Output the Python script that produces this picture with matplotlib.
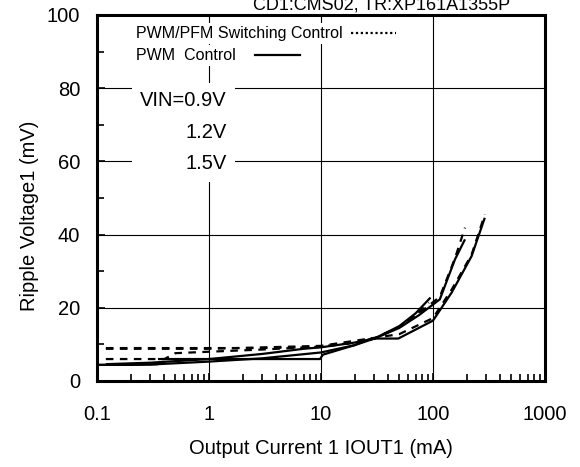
import matplotlib
matplotlib.use("Agg")
import matplotlib.pyplot as plt
from matplotlib.lines import Line2D
from matplotlib.ticker import LogLocator, MultipleLocator, FixedLocator, FixedFormatter

plt.rcParams['font.family'] = ['Liberation Sans', 'DejaVu Sans']

# Output current (mA) / ripple voltage (mV)
# PWM control (solid)
pwm_09_x = [0.12, 0.3, 1, 3, 7, 10, 20, 30, 50, 70, 95]
pwm_09_y = [4.6, 5.0, 6.0, 7.4, 8.8, 9.2, 10.5, 11.6, 15.0, 18.5, 22.8]
pwm_12_x = [0.1, 0.3, 1, 3, 10, 20, 30, 50, 75, 115, 157, 193]
pwm_12_y = [4.4, 4.5, 5.3, 6.2, 7.8, 9.8, 11.6, 14.5, 18.0, 22.3, 33.2, 38.7]
pwm_15_x = [0.35, 1, 3, 9.8, 10.4, 20, 28, 49, 100, 147, 221, 290]
pwm_15_y = [6.0, 6.0, 6.0, 6.0, 7.2, 9.8, 11.6, 11.6, 16.5, 24.2, 34.1, 44.6]
pwm_base_x = [0.1, 0.2, 0.35]
pwm_base_y = [4.4, 4.4, 4.6]

# PWM/PFM switching control (dashed)
pfm_09_x = [0.12, 0.4, 0.5, 1, 3, 10, 20, 30, 50, 70, 92]
pfm_09_y = [6.0, 6.0, 7.6, 8.0, 8.6, 9.4, 10.5, 11.6, 14.8, 18.0, 21.4]
pfm_12_x = [0.12, 1, 3, 10, 20, 30, 50, 75, 115, 157, 193]
pfm_12_y = [9.0, 9.0, 9.0, 9.3, 10.5, 11.6, 14.8, 18.5, 23.0, 33.5, 41.9]
pfm_15_x = [0.12, 1, 10, 30, 50, 100, 147, 221, 290]
pfm_15_y = [8.8, 8.8, 9.6, 11.8, 12.8, 17.2, 25.0, 34.5, 45.5]

x_ticks = [0.1, 1, 10, 100, 1000]
x_tick_labels = ['0.1', '1', '10', '100', '1000']
y_ticks = [0, 20, 40, 60, 80, 100]

fig = plt.figure(figsize=(5.8, 4.67), dpi=100)
ax = fig.add_axes([97 / 580, 1 - 381 / 467, 448 / 580, 366 / 467])

lw = 1.6
dash = (0, (3.4, 2.9))
for x, y in [(pwm_09_x, pwm_09_y), (pwm_12_x, pwm_12_y),
             (pwm_15_x, pwm_15_y), (pwm_base_x, pwm_base_y)]:
    ax.plot(x, y, color='black', lw=lw, solid_capstyle='butt')
for x, y in [(pfm_09_x, pfm_09_y), (pfm_12_x, pfm_12_y), (pfm_15_x, pfm_15_y)]:
    ax.plot(x, y, color='black', lw=lw, linestyle=dash)

ax.set_xscale('log')
ax.set_xlim(0.1, 1000)
ax.set_ylim(0, 100)
ax.xaxis.set_major_locator(FixedLocator(x_ticks))
ax.xaxis.set_major_formatter(FixedFormatter(x_tick_labels))
ax.xaxis.set_minor_locator(LogLocator(base=10, subs=range(2, 10), numticks=20))
ax.xaxis.set_minor_formatter(FixedFormatter([]))
ax.set_yticks(y_ticks)
ax.yaxis.set_minor_locator(MultipleLocator(10))

ax.grid(True, which='major', color='black', lw=0.8)
ax.tick_params(which='both', direction='in', top=False, right=False,
               labelsize=14.5, color='black')
ax.tick_params(axis='x', which='major', length=6, width=1.2, pad=17)
ax.tick_params(axis='x', which='minor', length=5, width=1.2)
ax.tick_params(axis='y', which='major', length=6, width=1.2, pad=12)
ax.tick_params(axis='y', which='minor', length=5, width=1.2)
for s in ax.spines.values():
    s.set_linewidth(2.2)

ax.set_xlabel('Output Current 1 IOUT1 (mA)', fontsize=14.5)
ax.xaxis.set_label_coords(0.5, -0.158)
ax.set_ylabel('Ripple Voltage1 (mV)', fontsize=14.5)
ax.yaxis.set_label_coords(-0.13, 0.45)

# legend: label first, sample after, each sample right after its text
h1 = [Line2D([], [], color='black', lw=lw, linestyle=(0, (1, 1.2)))]
h2 = [Line2D([], [], color='black', lw=lw)]
leg1 = ax.legend(h1, ['PWM/PFM Switching Control'], markerfirst=False,
                 loc='upper left', bbox_to_anchor=(0.063, 1.0),
                 fontsize=11.5, frameon=True, fancybox=False,
                 edgecolor='none', facecolor='white', framealpha=1,
                 handlelength=2.8, handletextpad=0.5, borderpad=0.2)
ax.add_artist(leg1)
ax.legend(h2, ['PWM  Control'], markerfirst=False,
          loc='upper left', bbox_to_anchor=(0.063, 0.94),
          fontsize=11.5, frameon=True, fancybox=False,
          edgecolor='none', facecolor='white', framealpha=1,
          handlelength=2.8, handletextpad=1.2, borderpad=0.2)

ax.text(0.29, 0.793, 'VIN=0.9V\n1.2V\n1.5V', transform=ax.transAxes,
        ha='right', va='top', multialignment='right', fontsize=14.5,
        linespacing=1.85,
        bbox=dict(facecolor='white', edgecolor='none', pad=6))

fig.text(382 / 580, 1 - 10 / 467, 'CD1:CMS02, TR:XP161A1355P',
         ha='center', va='baseline', fontsize=13)

fig.savefig('out.png', dpi=100)
